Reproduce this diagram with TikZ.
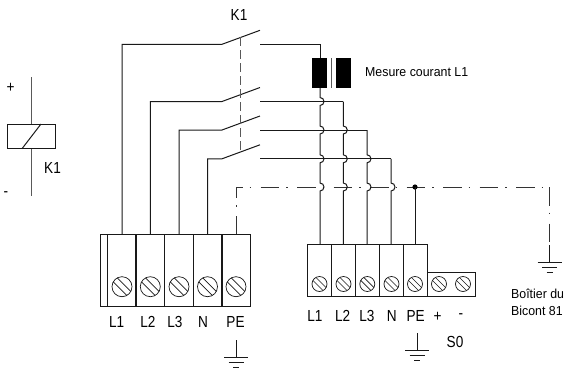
\documentclass[tikz,border=0pt]{standalone}
\usepackage{fontspec}
\setmainfont{Liberation Sans}
\begin{document}
\begin{tikzpicture}[x=1pt,y=-1pt,
  wire/.style={line width=1pt,draw=black!90},
  thin wire/.style={line width=0.9pt,draw=black!65},
  dashdot/.style={line width=0.9pt,draw=black!80,dash pattern=on 18.5pt off 7pt on 1.5pt off 9.5pt},
  box/.style={line width=1pt,draw=black!90,fill=white},
  lbl/.style={inner sep=0pt,font=\fontsize{16}{16}\selectfont,xscale=0.85,transform shape},
  small/.style={inner sep=0pt,font=\fontsize{13}{16.5}\selectfont,xscale=0.95,transform shape}]
\useasboundingbox (0,0) rectangle (566,373);
\path[fill=white] (0,0) rectangle (566,373);
% coil
\draw[thin wire] (31,77) -- (31,196);
\draw[box] (7,124) rectangle (55,148.7);
\draw[wire] (22,148.7) -- (41,124);
\node[lbl] (plus) at (10.5,88) {+};
\node[lbl] (minus) at (6,194) {-};
\node[lbl] (kcoil) at (52.5,168) {K1};
\node[lbl] (ktop) at (239,15) {K1};
% contacts
\foreach \xl/\yy/\xr in {122/44.3/320,150.3/101.5/343.3,179/130/367,207.5/158.8/391}{
  \draw[wire] (\xl,234) -- (\xl,\yy) -- (222,\yy) -- (260,\yy-14);
  \draw[wire] (260,\yy) -- (\xr,\yy);
}
\draw[thin wire,dash pattern=on 9pt off 4pt] (240.7,37) -- (240.7,152);
% dash-dot earth line
\draw[dashdot,dash phase=7.5pt] (236,187.3) -- (236,234);
\draw[dashdot,dash phase=12pt,line join=miter] (236,187) -- (545,187);
\draw[dashdot] (549.5,187) -- (549.5,262.7);
% current transformer
\draw[wire] (320,44.3) -- (320,58);
\fill[black] (312,58) rectangle (327,88);
\fill[black] (336,58) rectangle (351,88);
\draw[thin wire] (331.5,58) -- (331.5,88);
% verticals with hops
\draw[wire] (320,88) -- (320,97.5) arc[start angle=-90,end angle=90,radius=4] -- (320,126) arc[start angle=-90,end angle=90,radius=4] -- (320,154.8) arc[start angle=-90,end angle=90,radius=4] -- (320,183) arc[start angle=-90,end angle=90,radius=4] -- (320,244);
\draw[wire] (343.3,101.5) -- (343.3,126) arc[start angle=-90,end angle=90,radius=4] -- (343.3,154.8) arc[start angle=-90,end angle=90,radius=4] -- (343.3,183) arc[start angle=-90,end angle=90,radius=4] -- (343.3,244);
\draw[wire] (367,130) -- (367,154.8) arc[start angle=-90,end angle=90,radius=4] -- (367,183) arc[start angle=-90,end angle=90,radius=4] -- (367,244);
\draw[wire] (391,158.8) -- (391,183) arc[start angle=-90,end angle=90,radius=4] -- (391,244);
% junction
\fill[black] (415,187) circle[radius=2.6];
\draw[wire] (415,187) -- (415,244);
% left terminal block
\draw[box] (100,234.3) rectangle (250.5,306);
\foreach \x/\w in {107/1,136/1.5,164.7/1,193.3/1.2,222/1.3}
  \draw[wire,line width=\w pt] (\x,234.3) -- (\x,306);
\foreach \x in {122,150.3,179,207.5,236}{
  \draw[wire,line width=0.7pt] (\x,286.7) circle[radius=10];
  \draw[wire,line width=0.7pt] (\x-8.8,286.7-4.8) -- (\x+4.8,286.7+8.8);
  \draw[wire,line width=0.7pt] (\x-4.8,286.7-8.8) -- (\x+8.8,286.7+4.8);
}
% right terminal block
\draw[box] (307.7,244) rectangle (427.3,296);
\draw[box] (427.3,272.7) rectangle (475,296);
\foreach \x in {331.7,355.7,379.7,403.3}
  \draw[wire] (\x,244) -- (\x,296);
\foreach \x in {319.5,343.5,367.3,391.5,415,439,463}{
  \draw[wire,line width=0.7pt] (\x,284) circle[radius=7.5];
  \draw[wire,line width=0.7pt] (\x-6.6,284-3.6) -- (\x+3.6,284+6.6);
  \draw[wire,line width=0.7pt] (\x-3.6,284-6.6) -- (\x+6.6,284+3.6);
}
% terminal labels
\node[lbl] (la1) at (116.7,321.7) {L1};
\node[lbl] (la2) at (148,321.7) {L2};
\node[lbl] (la3) at (175,321.7) {L3};
\node[lbl] (la4) at (203,321.7) {N};
\node[lbl] (la5) at (235.5,321.7) {PE};
\node[lbl] (lb1) at (315,316) {L1};
\node[lbl] (lb2) at (342.7,316) {L2};
\node[lbl] (lb3) at (367,316) {L3};
\node[lbl] (lb4) at (391.7,316) {N};
\node[lbl] (lb5) at (415.7,316) {PE};
\node[lbl] (lb6) at (437.7,317) {+};
\node[lbl] (lb7) at (461,316) {-};
\node[lbl] (s0) at (455,341.7) {S0};
\node[small,anchor=west] (mes) at (365,72) {Mesure courant L1};
\node[small,anchor=west,align=left] (boit) at (511,302.3) {Boîtier du\\Bicont 81};
% earths
\foreach \x/\a/\b in {236/340/357,417/333/350.5,549.5/245/262.7}{
  \draw[wire] (\x,\a) -- (\x,\b);
  \draw[wire] (\x-12,\b) -- (\x+12,\b);
  \draw[wire] (\x-7.5,\b+5) -- (\x+7.5,\b+5);
  \draw[wire] (\x-3,\b+10) -- (\x+3,\b+10);
}
\end{tikzpicture}
\end{document}
